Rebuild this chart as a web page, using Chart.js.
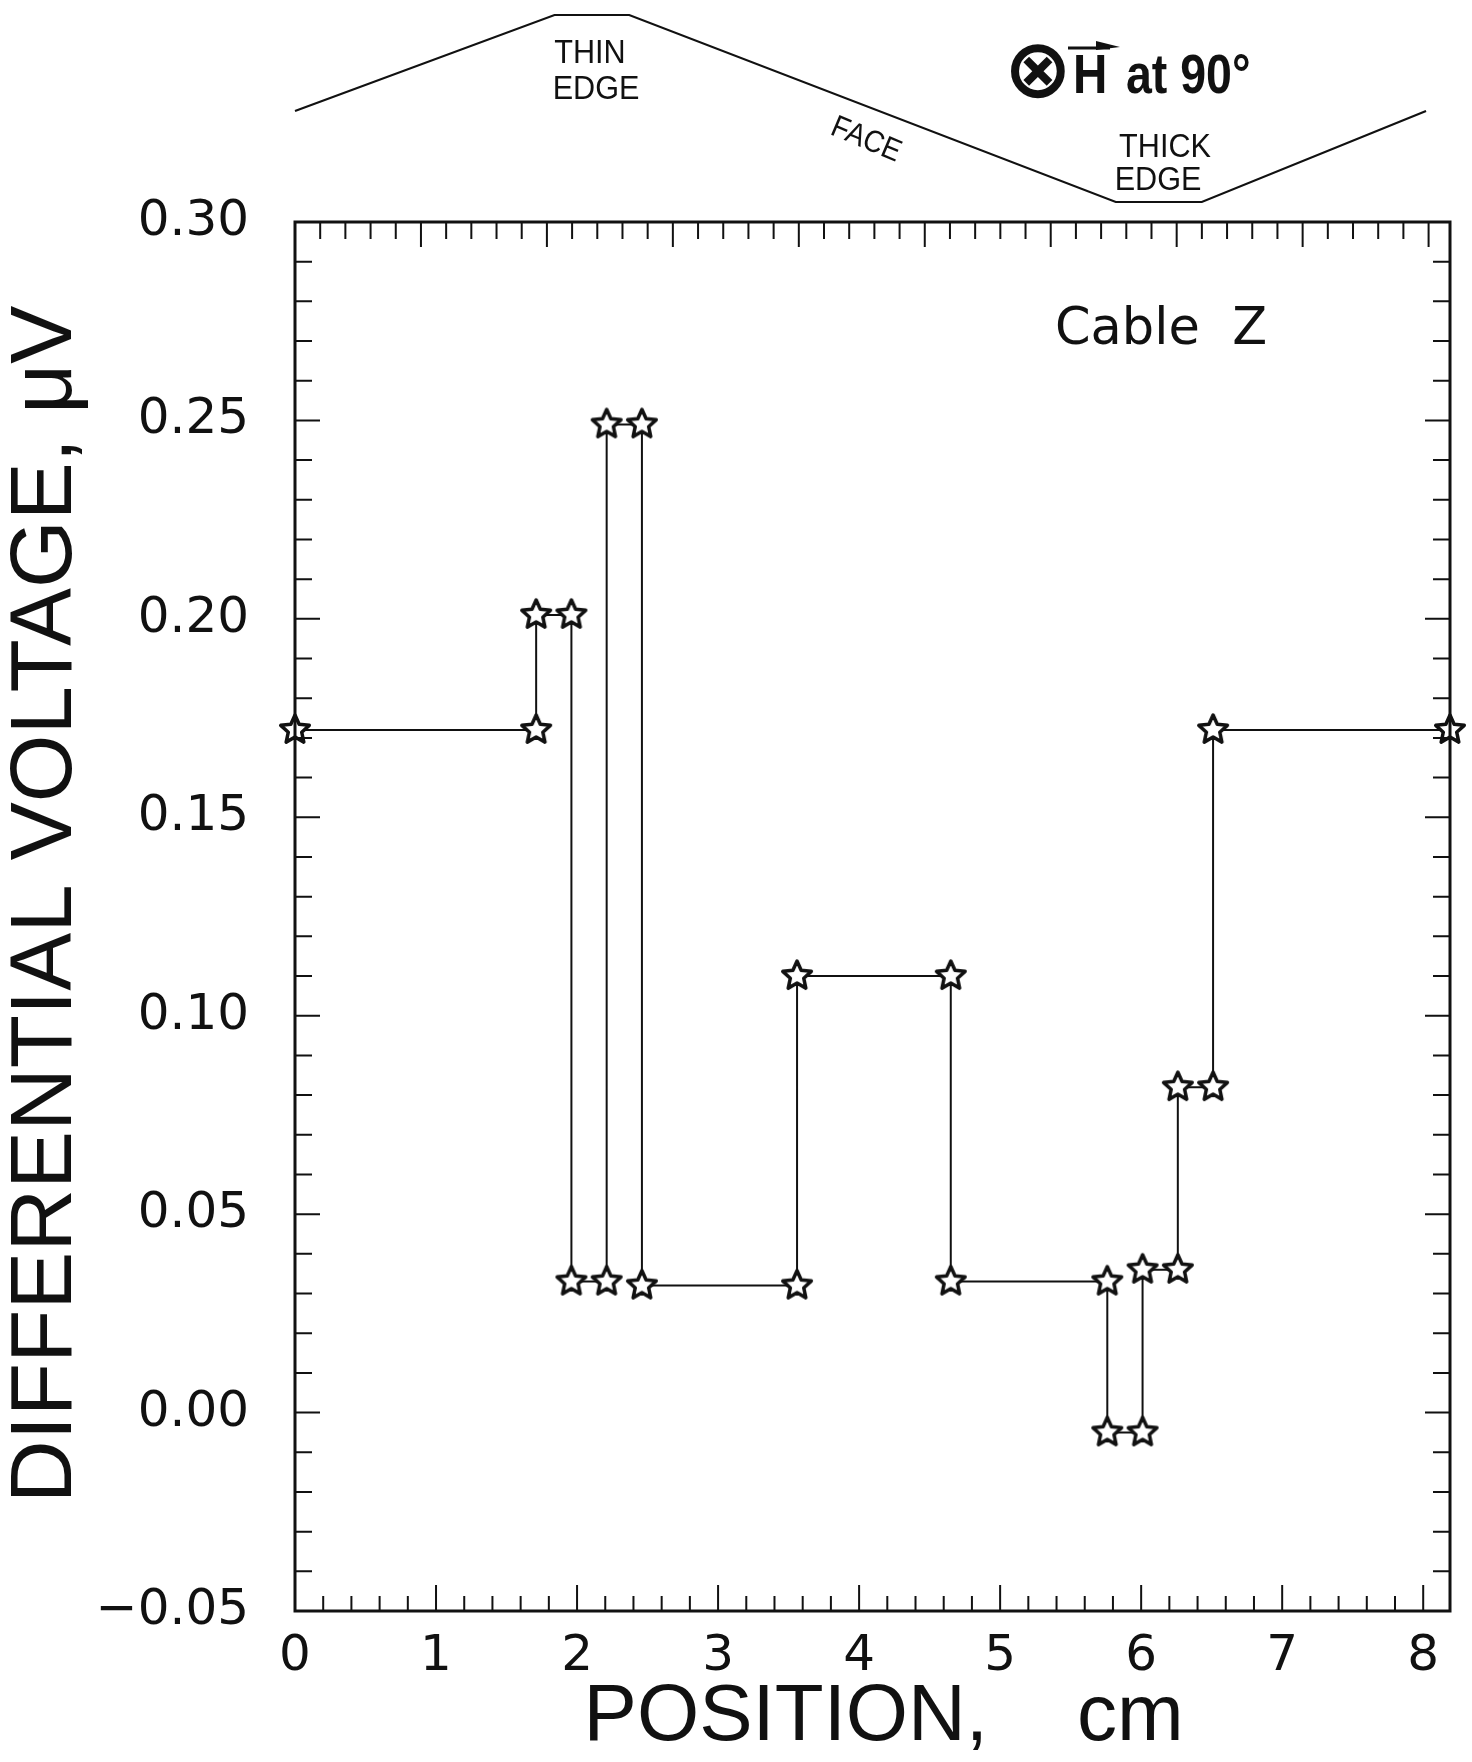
<!DOCTYPE html>
<html>
<head>
<meta charset="utf-8">
<script src="https://cdn.jsdelivr.net/npm/chart.js@4.4.1/dist/chart.umd.min.js"></script>
<style>
  html, body { margin: 0; padding: 0; background: #fff; }
</style>
</head>
<body>
<canvas id="voltage-chart" width="1472" height="1762"></canvas>
<script>
// measured values (step profile along the cable)
const positions = [0, 1.71, 1.71, 1.96, 1.96, 2.21, 2.21, 2.46, 2.46, 3.56, 3.56, 4.65, 4.65, 5.76, 5.76, 6.01, 6.01, 6.26, 6.26, 6.51, 6.51, 8.19];
const voltages = [0.172, 0.172, 0.201, 0.201, 0.033, 0.033, 0.249, 0.249, 0.032, 0.032, 0.110, 0.110, 0.033, 0.033, -0.005, -0.005, 0.036, 0.036, 0.082, 0.082, 0.172, 0.172];

const xTickLabels = [0, 1, 2, 3, 4, 5, 6, 7, 8];
const yTickLabels = [-0.05, 0, 0.05, 0.10, 0.15, 0.20, 0.25, 0.30];

const X_MAX = 8.19;
const TOP_AXIS_MAX = 9.17; // the top frame has its own tick spacing

const points = positions.map((p, i) => ({ x: p, y: voltages[i] }));

function makeStar(r) {
  const c = document.createElement("canvas");
  const s = Math.ceil(r * 2 + 8);
  c.width = s;
  c.height = s;
  const g = c.getContext("2d");
  g.translate(s / 2, s / 2);
  g.beginPath();
  for (let k = 0; k < 10; k++) {
    const rr = k % 2 ? r * 0.47 : r;
    const ang = -Math.PI / 2 + (k * Math.PI) / 5;
    g.lineTo(rr * Math.cos(ang), rr * Math.sin(ang));
  }
  g.closePath();
  g.fillStyle = "#fff";
  g.fill();
  g.lineWidth = 3.5;
  g.lineJoin = "round";
  g.strokeStyle = "#111";
  g.stroke();
  return c;
}

const starImg = makeStar(15);

// inward ticks on all four sides + the frame
const frameTicks = {
  id: "frameTicks",
  afterDraw(chart) {
    const { ctx, chartArea: a } = chart;
    const { x, x2, y } = chart.scales;
    ctx.save();
    ctx.strokeStyle = "#111";
    ctx.lineWidth = 3;
    ctx.strokeRect(a.left, a.top, a.right - a.left, a.bottom - a.top);
    ctx.lineWidth = 2;
    ctx.beginPath();
    for (let i = 1; i / 5 <= x.max; i++) {
      const px = x.getPixelForValue(i / 5);
      const len = i % 5 === 0 ? 26 : 15;
      ctx.moveTo(px, a.bottom);
      ctx.lineTo(px, a.bottom - len);
    }
    for (let i = 1; i / 5 <= x2.max; i++) {
      const px = x2.getPixelForValue(i / 5);
      const len = i % 5 === 0 ? 25 : 17;
      ctx.moveTo(px, a.top);
      ctx.lineTo(px, a.top + len);
    }
    for (let i = -4; i < 30; i++) {
      const py = y.getPixelForValue(i / 100);
      const len = i % 5 === 0 ? 25 : 17;
      ctx.moveTo(a.left, py);
      ctx.lineTo(a.left + len, py);
      ctx.moveTo(a.right, py);
      ctx.lineTo(a.right - len, py);
    }
    ctx.stroke();
    ctx.restore();
  },
};

function narrowText(ctx, text, x, y, sx, rot) {
  ctx.save();
  ctx.translate(x, y);
  if (rot) ctx.rotate(rot);
  ctx.scale(sx, 1);
  ctx.fillText(text, 0, 0);
  ctx.restore();
}

// cable cross-section sketch, labels and the field note
const sketch = {
  id: "sketch",
  afterDraw(chart) {
    const { ctx } = chart;
    const x = chart.scales.x;
    const shapeX = [0, 1.84, 2.37, 5.82, 6.43, 8.02];
    const shapeY = [111, 15, 15, 202, 202, 111];
    ctx.save();
    ctx.strokeStyle = "#111";
    ctx.fillStyle = "#111";
    ctx.lineWidth = 2.2;
    ctx.beginPath();
    shapeX.forEach((v, i) => ctx.lineTo(x.getPixelForValue(v), shapeY[i]));
    ctx.stroke();

    ctx.font = "34px 'Liberation Sans', Arial, sans-serif";
    ctx.textAlign = "center";
    ctx.textBaseline = "alphabetic";
    narrowText(ctx, "THIN", 590, 63, 0.9);
    narrowText(ctx, "EDGE", 596, 99, 0.9);
    narrowText(ctx, "THICK", 1165, 157, 0.9);
    narrowText(ctx, "EDGE", 1158, 190, 0.9);
    ctx.font = "31px 'Liberation Sans', Arial, sans-serif";
    ctx.textBaseline = "middle";
    narrowText(ctx, "FACE", 866, 140, 0.9, (23 * Math.PI) / 180);

    // ⊗ H at 90°
    ctx.font = "bold 82px 'DejaVu Sans', sans-serif";
    ctx.textAlign = "center";
    ctx.textBaseline = "middle";
    ctx.fillText("⊗", 1038, 76);
    ctx.textAlign = "left";
    ctx.textBaseline = "alphabetic";
    ctx.font = "bold 56px 'Liberation Sans', Arial, sans-serif";
    narrowText(ctx, "H", 1073, 93, 0.85);
    narrowText(ctx, "at 90°", 1126, 93, 0.83);
    ctx.lineWidth = 3;
    ctx.beginPath();
    ctx.moveTo(1068, 48);
    ctx.lineTo(1110, 48);
    ctx.stroke();
    ctx.beginPath();
    ctx.moveTo(1096, 41);
    ctx.lineTo(1120, 47);
    ctx.lineTo(1096, 50);
    ctx.closePath();
    ctx.fill();

    ctx.font = "51px 'DejaVu Sans', sans-serif";
    ctx.fillText("Cable  Z", 1055, 344);
    ctx.restore();
  },
};

const tickFont = { family: "'DejaVu Sans', sans-serif", size: 50 };

const chart = new Chart(document.getElementById("voltage-chart"), {
  type: "line",
  data: {
    datasets: [
      {
        data: points,
        borderColor: "#111",
        borderWidth: 2,
        pointStyle: starImg,
        pointRadius: 15,
        tension: 0,
        clip: false,
      },
    ],
  },
  options: {
    responsive: false,
    animation: false,
    devicePixelRatio: 1,
    layout: { padding: { top: 222, right: 22, left: 0, bottom: 0 } },
    plugins: { legend: { display: false }, tooltip: { enabled: false } },
    scales: {
      x: {
        type: "linear",
        position: "bottom",
        min: 0,
        max: X_MAX,
        afterBuildTicks: (s) => { s.ticks = xTickLabels.map((v) => ({ value: v })); },
        afterFit: (s) => { s.height = 151; },
        grid: { display: false, drawTicks: false },
        border: { display: false },
        ticks: { color: "#111", font: tickFont, padding: 16, maxRotation: 0 },
        title: {
          display: true,
          text: " POSITION,    cm",
          color: "#111",
          font: { family: "'Liberation Sans', Arial, sans-serif", size: 80, lineHeight: 1 },
          padding: { top: 0, bottom: 4 },
        },
      },
      x2: {
        type: "linear",
        position: "top",
        display: false,
        min: 0,
        max: TOP_AXIS_MAX,
      },
      y: {
        min: -0.05,
        max: 0.30,
        afterBuildTicks: (s) => { s.ticks = yTickLabels.map((v) => ({ value: v })); },
        afterFit: (s) => { s.width = 295; },
        grid: { display: false, drawTicks: false },
        border: { display: false },
        ticks: {
          color: "#111",
          font: tickFont,
          padding: 46,
          callback: (v) => v.toFixed(2).replace("-", "\u2212"),
        },
        title: {
          display: true,
          text: " DIFFERENTIAL VOLTAGE, μV",
          color: "#111",
          font: { family: "'Liberation Sans', Arial, sans-serif", size: 87, lineHeight: 1 },
          padding: { top: 4, bottom: 0 },
        },
      },
    },
  },
  plugins: [frameTicks, sketch],
});
</script>
</body>
</html>
